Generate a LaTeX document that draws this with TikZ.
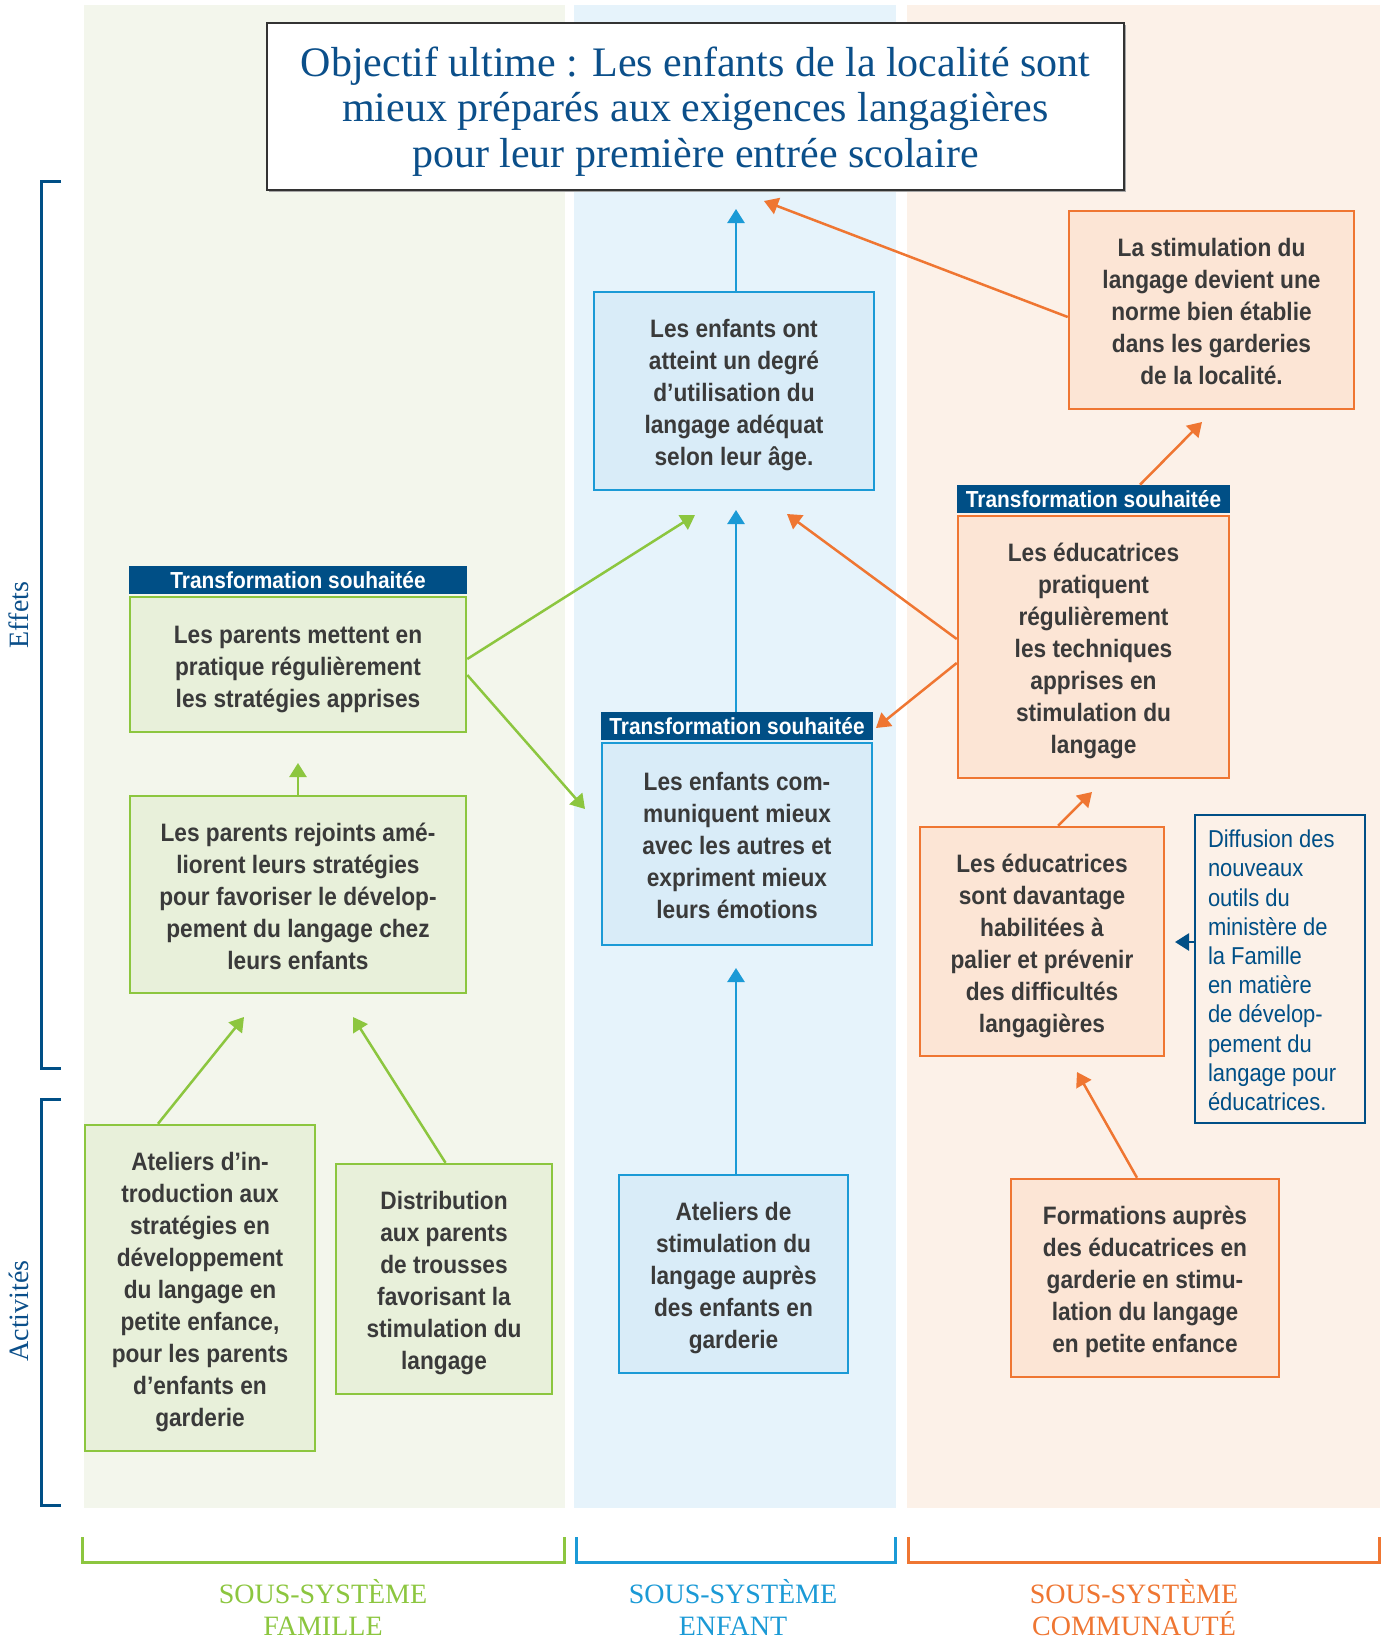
\documentclass[tikz,border=0pt]{standalone}
\usepackage{fontspec}
\setmainfont{Liberation Serif}
\newfontfamily\boxfont[FakeStretch=0.9]{Liberation Sans Bold}
\newfontfamily\diffont[FakeStretch=0.9]{Liberation Sans}
\newfontfamily\serifont{Liberation Serif}
\usetikzlibrary{arrows.meta}
\definecolor{gbg}{HTML}{F3F6EC}
\definecolor{bbg}{HTML}{E6F3FB}
\definecolor{obg}{HTML}{FCF1E8}
\definecolor{gline}{HTML}{8CC63F}
\definecolor{gfill}{HTML}{E8F0DA}
\definecolor{bline}{HTML}{1B9AD6}
\definecolor{bfill}{HTML}{D9ECF8}
\definecolor{oline}{HTML}{EF7632}
\definecolor{ofill}{HTML}{FCE5D5}
\definecolor{navy}{HTML}{004F86}
\definecolor{titleblue}{HTML}{0B4F8A}
\definecolor{txt}{HTML}{3A3A3A}
\newcommand\mlines[2][2.1]{\raisebox{-#1pt}[\height][\depth]{\begin{tabular}{@{}c@{}}#2\end{tabular}}}
\newcommand\llines[1]{\raisebox{-2.1pt}[\height][\depth]{\begin{tabular}{@{}p{72pt}@{}}#1\end{tabular}}}
\begin{document}
\begin{tikzpicture}[x=0.5pt,y=-0.5pt,
  box/.style={draw, line width=1.25pt, text=txt, inner sep=0pt,
    font=\boxfont\fontsize{12.6}{16}\selectfont},
  gbox/.style={box, draw=gline, fill=gfill},
  bbox/.style={box, draw=bline, fill=bfill},
  obox/.style={box, draw=oline, fill=ofill},
  hdr/.style={fill=navy, text=white, inner sep=0pt, minimum height=14pt, anchor=south,
    font=\boxfont\fontsize{11.6}{13}\selectfont},
  tip/.style={-{Triangle[length=7pt,width=8.5pt]}, line width=1.25pt},
  garr/.style={tip, draw=gline, fill=gline},
  barr/.style={tip, draw=bline, fill=bline},
  oarr/.style={tip, draw=oline, fill=oline},
  narr/.style={tip, draw=navy, fill=navy},
  brk/.style={line width=1.5pt},
  lbl/.style={anchor=base, inner sep=0pt, font=\serifont\fontsize{14}{16}\selectfont},
  vlbl/.style={rotate=90, inner sep=0pt, text=titleblue, font=\serifont\fontsize{14}{16}\selectfont}
]
\useasboundingbox (0,0) rectangle (1385,1638);
\fill[white] (0,0) rectangle (1385,1638);
% columns
\fill[gbg] (84,5) rectangle (565,1508);
\fill[bbg] (574,5) rectangle (896,1508);
\fill[obg] (907,5) rectangle (1380,1508);
% left brackets
\draw[brk, navy] (61,181) -- (41,181) -- (41,1068) -- (61,1068);
\draw[brk, navy] (61,1099) -- (41,1099) -- (41,1505) -- (61,1505);
\node[vlbl] (eff) at (19,615) {Effets};
\node[vlbl] (act) at (19,1311) {Activités};
% bottom brackets
\draw[brk, gline] (82,1537) -- (82,1562) -- (564,1562) -- (564,1537);
\draw[brk, bline] (576,1537) -- (576,1562) -- (895,1562) -- (895,1537);
\draw[brk, oline] (908,1537) -- (908,1562) -- (1379,1562) -- (1379,1537);
\node[lbl, text=gline] (lf1) at (323,1603) {SOUS-SYSTÈME};
\node[lbl, text=gline] (lf2) at (323,1635) {FAMILLE};
\node[lbl, text=bline] (le1) at (733,1603) {SOUS-SYSTÈME};
\node[lbl, text=bline] (le2) at (733,1635) {ENFANT};
\node[lbl, text=oline] (lc1) at (1134,1603) {SOUS-SYSTÈME};
\node[lbl, text=oline] (lc2) at (1134,1635) {COMMUNAUTÉ};
% title
\fill[black!35] (269,25) rectangle (1126,192);
\node[draw=black!80, line width=0.8pt, fill=white, minimum width=428.5pt, minimum height=83.5pt,
  inner sep=0pt, text=titleblue, font=\serifont\fontsize{21}{22.75}\selectfont]
  (T) at (695.5,106.5) {\mlines[3.1]{Objectif ultime : Les enfants de la localité sont\\
  mieux préparés aux exigences langagières\\ pour leur première entrée scolaire}};
% blue column
\node[bbox, minimum width=140pt, minimum height=99pt] (B1) at (734,391)
  {\mlines{Les enfants ont\\ atteint un degré\\ d’utilisation du\\ langage adéquat\\ selon leur âge.}};
\node[bbox, minimum width=135pt, minimum height=101pt] (B2) at (737,844)
  {\mlines{Les enfants com-\\ muniquent mieux\\ avec les autres et\\ expriment mieux\\ leurs émotions}};
\node[hdr, minimum width=136.25pt] (B2h) at ([yshift=0.6pt]B2.north) {Transformation souhaitée};
\node[bbox, minimum width=114.5pt, minimum height=99pt] (B3) at (733.5,1274)
  {\mlines{Ateliers de\\ stimulation du\\ langage auprès\\ des enfants en\\ garderie}};
% orange column
\node[obox, minimum width=142.5pt, minimum height=99pt] (O1) at (1211.5,310)
  {\mlines{La stimulation du\\ langage devient une\\ norme bien établie\\ dans les garderies\\ de la localité.}};
\node[obox, minimum width=135.5pt, minimum height=131pt] (H3) at (1093.5,647)
  {\mlines{Les éducatrices\\ pratiquent\\ régulièrement\\ les techniques\\ apprises en\\ stimulation du\\ langage}};
\node[hdr, minimum width=136.75pt] (H3h) at ([yshift=0.6pt]H3.north) {Transformation souhaitée};
\node[obox, minimum width=122pt, minimum height=114.5pt] (O3) at (1042,941.5)
  {\mlines{Les éducatrices\\ sont davantage\\ habilitées à\\ palier et prévenir\\ des difficultés\\ langagières}};
\node[draw=navy, line width=1.25pt, minimum width=85pt, minimum height=154pt, inner sep=0pt,
  text=navy, font=\diffont\fontsize{12.2}{14.6}\selectfont]
  (D) at (1280,969) {\llines{Diffusion des\\ nouveaux\\ outils du\\ ministère de\\ la Famille\\ en matière\\ de dévelop-\\ pement du\\ langage pour\\ éducatrices.}};
\node[obox, minimum width=134pt, minimum height=99pt] (O4) at (1145,1278)
  {\mlines{Formations auprès\\ des éducatrices en\\ garderie en stimu-\\ lation du langage\\ en petite enfance}};
% green column
\node[gbox, minimum width=168pt, minimum height=67.5pt] (G1) at (298,664.5)
  {\mlines{Les parents mettent en\\ pratique régulièrement\\ les stratégies apprises}};
\node[hdr, minimum width=169.25pt] (G1h) at ([yshift=0.6pt]G1.north) {Transformation souhaitée};
\node[gbox, minimum width=168pt, minimum height=98.5pt] (G2) at (298,894.5)
  {\mlines{Les parents rejoints amé-\\ liorent leurs stratégies\\ pour favoriser le dévelop-\\ pement du langage chez\\ leurs enfants}};
\node[gbox, minimum width=115pt, minimum height=163pt] (G3) at (200,1288)
  {\mlines{Ateliers d’in-\\ troduction aux\\ stratégies en\\ développement\\ du langage en\\ petite enfance,\\ pour les parents\\ d’enfants en\\ garderie}};
\node[gbox, minimum width=108pt, minimum height=115pt] (G4) at (444,1279)
  {\mlines{Distribution\\ aux parents\\ de trousses\\ favorisant la\\ stimulation du\\ langage}};
% free arrow ends
\coordinate (tTA) at (736,209);
\coordinate (tTB) at (764,201);
\coordinate (tO1) at (1202,422);
\coordinate (tB1o) at (787,514);
\coordinate (tB2o) at (876,728);
\coordinate (tB1b) at (736,510);
\coordinate (tB2b) at (736,968);
\coordinate (tH3) at (1092,792);
\coordinate (tO3d) at (1175,942);
\coordinate (tO3f) at (1077,1072);
\coordinate (tB1g) at (695,515);
\coordinate (tB2g) at (585,809);
\coordinate (tG1) at (298,763);
\coordinate (tG2a) at (244,1017);
\coordinate (tG2b) at (353,1017);
% connectors
\draw[barr] ([xshift=1pt]B1.north) -- (tTA);
\draw[oarr] ([yshift=-3.5pt]O1.west) -- (tTB);
\draw[oarr] ([xshift=23.25pt]H3h.north) -- (tO1);
\draw[oarr] ([yshift=4pt]H3.west) -- (tB1o);
\draw[oarr] ([yshift=-8pt]H3.west) -- (tB2o);
\draw[barr] ([xshift=-0.5pt]B2h.north) -- (tB1b);
\draw[barr] ([xshift=1.25pt]B3.north) -- (tB2b);
\draw[oarr] ([xshift=8pt]O3.north) -- (tH3);
\draw[narr] ([yshift=13.5pt]D.west) -- (tO3d);
\draw[oarr] ([xshift=-4pt]O4.north) -- (tO3f);
\draw[garr] ([yshift=2.75pt]G1.east) -- (tB1g);
\draw[garr] ([yshift=-5.25pt]G1.east) -- (tB2g);
\draw[garr] (G2.north) -- (tG1);
\draw[garr] ([xshift=-21pt]G3.north) -- (tG2a);
\draw[garr] ([xshift=0.75pt]G4.north) -- (tG2b);
\end{tikzpicture}
\end{document}
